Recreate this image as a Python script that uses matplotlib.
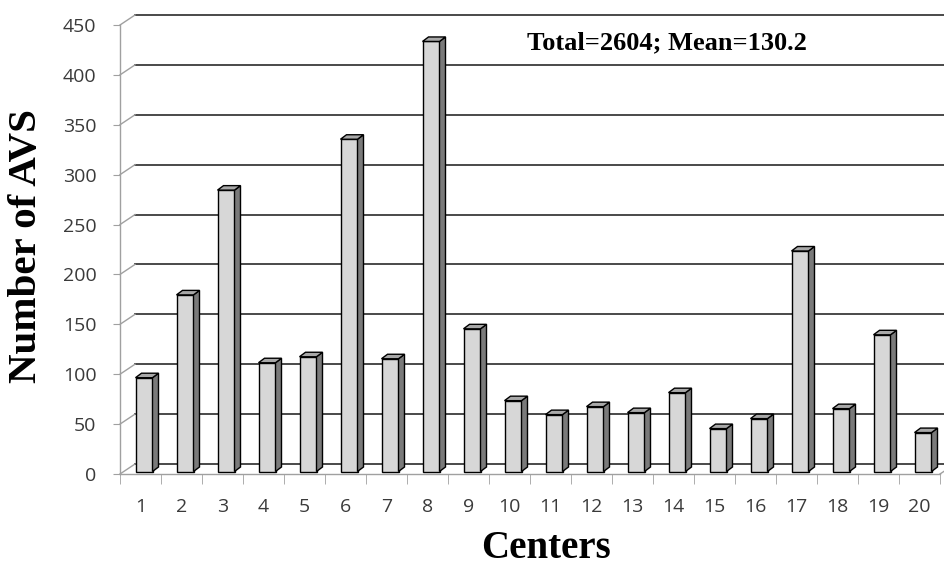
import matplotlib
matplotlib.use("Agg")
import matplotlib.pyplot as plt
from matplotlib.patches import Polygon

# Data
centers = [str(i) for i in range(1, 21)]
avs = [90, 173, 278, 105, 111, 329, 109, 427, 139, 67,
       53, 61, 55, 75, 39, 49, 217, 59, 133, 35]
y_ticks = list(range(0, 451, 50))
note = "Total=2604; Mean=130.2"

W, H, DPI = 944, 566, 100
fig = plt.figure(figsize=(W / DPI, H / DPI), dpi=DPI)

# front plane of the fake 3D box, in pixels
x0, x1 = 120, 940
y0, y1 = 474, 25
ax = fig.add_axes([x0 / W, 1 - y0 / H, (x1 - x0) / W, (y0 - y1) / H])
ax.set_xlim(0.5, 20.5)
ax.set_ylim(0, 450)

px_x = 20 / (x1 - x0)     # data units per pixel
px_y = 450 / (y0 - y1)

# wall depth offset (back wall sits up and to the right)
wall_dx, wall_dy = 15 * px_x, 10 * px_y
grid_col = "#3a3a3a"
axis_col = "#a0a0a0"

for t in y_ticks:
    # back wall gridline
    ax.plot([0.5 + wall_dx, 20.5 + 8 * px_x], [t + wall_dy, t + wall_dy],
            color=grid_col, lw=1.3, clip_on=False, zorder=1)
    # side wall diagonal
    ax.plot([0.5, 0.5 + wall_dx], [t, t + wall_dy],
            color=axis_col, lw=1.0, clip_on=False, zorder=1)
# floor right edge
ax.plot([20.5, 20.5 + 8 * px_x], [0, 8 * px_y * 10 / 15],
        color=axis_col, lw=1.0, clip_on=False, zorder=1)

# bars: front face, side face and top face
xs = list(range(1, 21))
shift_x, base = 3.5 * px_x, 2.5 * px_y
top_off = 4.0
bw = 17 * px_x
ddx, ddy = 6 * px_x, 4.5 * px_y
front_col, side_col, top_col = "#d7d7d7", "#7a7a7a", "#a8a8a8"

fronts = [x + shift_x for x in xs]
heights = [v + top_off for v in avs]
ax.bar(fronts, heights, width=bw, bottom=base, color=front_col,
       edgecolor="black", linewidth=1.0, zorder=3)
for xc, h in zip(fronts, heights):
    l, r = xc - bw / 2, xc + bw / 2
    top = base + h
    side = Polygon([(r, base), (r + ddx, base + ddy), (r + ddx, top + ddy), (r, top)],
                   closed=True, facecolor=side_col, edgecolor="black", lw=1.0,
                   zorder=3, clip_on=False)
    cap = Polygon([(l, top), (l + ddx, top + ddy), (r + ddx, top + ddy), (r, top)],
                  closed=True, facecolor=top_col, edgecolor="black", lw=1.0,
                  zorder=3, clip_on=False)
    ax.add_patch(side)
    ax.add_patch(cap)

# axes styling
for s in ["top", "right"]:
    ax.spines[s].set_visible(False)
for s in ["left", "bottom"]:
    ax.spines[s].set_color(axis_col)
    ax.spines[s].set_linewidth(1.0)

ax.set_yticks(y_ticks)
ax.set_xticks(xs)
ax.set_xticklabels(centers)
ax.set_xticks([x + 0.5 for x in range(0, 21)], minor=True)
ax.tick_params(axis="x", which="major", length=0, pad=17)
ax.tick_params(axis="x", which="minor", length=7, color=axis_col, direction="out")
ax.tick_params(axis="y", length=5, color=axis_col, direction="out", pad=12)
for lbl in ax.get_xticklabels() + ax.get_yticklabels():
    lbl.set_fontfamily("Open Sans")
    lbl.set_fontsize(14)
    lbl.set_color("#3a3a3a")

fig.text(546 / W, 1 - 548 / H, "Centers", ha="center", va="center",
         fontfamily="Liberation Serif", fontweight="bold", fontsize=28)
fig.text(27 / W, 1 - 246 / H, "Number of AVS", ha="center", va="center",
         rotation=90, fontfamily="Liberation Serif", fontweight="bold", fontsize=29.5)
fig.text(667 / W, 1 - 43 / H, note, ha="center", va="center",
         fontfamily="Liberation Serif", fontweight="bold", fontsize=19)

fig.savefig("out.png", dpi=DPI)
